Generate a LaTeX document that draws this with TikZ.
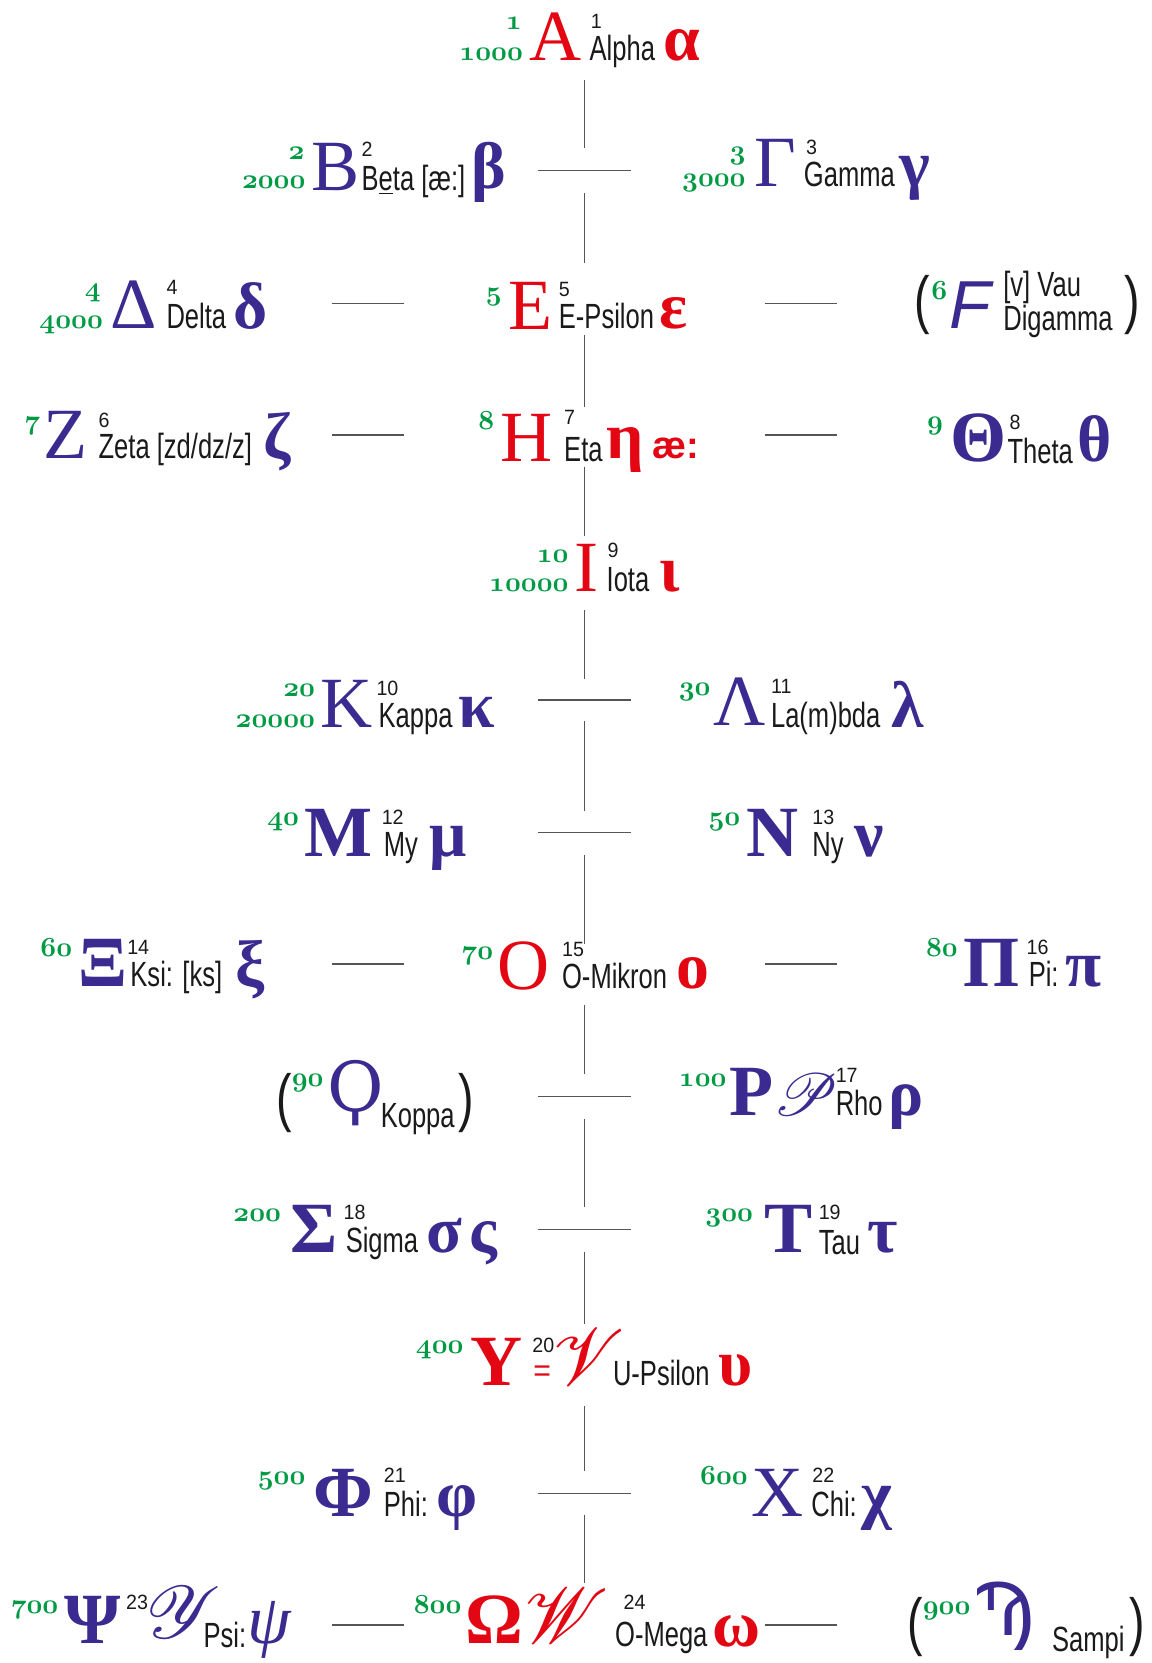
\documentclass[tikz,border=0pt]{standalone}
\usepackage{fontspec}
\usepackage{xcolor}
\newfontfamily\capff{Liberation Serif}
\newfontfamily\namff{Liberation Sans}[FakeStretch=0.73]
\newfontfamily\numff{Liberation Sans}[FakeStretch=0.95]
\newfontfamily\lcff{Liberation Serif}
\newfontfamily\sansff{Liberation Sans}
\newfontfamily\djs{DejaVu Sans}
\newfontfamily\djserif{DejaVu Serif}
\font\grnf=cmmib10 at 26pt
\font\scrPf=rsfs10 at 56pt
\font\scrVf=rsfs10 at 76pt
\font\scrWf=rsfs10 at 74pt
\font\scrYf=rsfs10 at 70pt
\definecolor{gred}{HTML}{E30613}
\definecolor{gpur}{HTML}{3B2A8F}
\definecolor{ggrn}{HTML}{009A44}
\definecolor{txt}{HTML}{1A1A1A}
\definecolor{lnc}{HTML}{555555}
\tikzset{
 every node/.style={inner sep=0pt,outer sep=0pt},
 gl/.style={font=\grnf,text=ggrn,anchor=base west},
 gr/.style={font=\grnf,text=ggrn,anchor=base east},
 capR/.style={font=\capff\fontsize{68}{68}\selectfont,text=gred,anchor=base west},
 capP/.style={font=\capff\fontsize{68}{68}\selectfont,text=gpur,anchor=base west},
 capRB/.style={font=\capff\bfseries\fontsize{68}{68}\selectfont,text=gred,anchor=base west},
 capPB/.style={font=\capff\bfseries\fontsize{68}{68}\selectfont,text=gpur,anchor=base west},
 sup/.style={font=\numff\fontsize{19.5}{19.5}\selectfont,text=txt,anchor=base west},
 nm/.style={font=\namff\fontsize{33}{33}\selectfont,text=txt,anchor=base west},
 lcR/.style={font=\lcff\bfseries\fontsize{62}{62}\selectfont,text=gred,anchor=base west},
 lcP/.style={font=\lcff\bfseries\fontsize{62}{62}\selectfont,text=gpur,anchor=base west},
 paren/.style={font=\namff\fontsize{60}{60}\selectfont,text=txt,anchor=base west},
 vline/.style={draw=lnc,line width=0.9pt},
 hline/.style={draw=lnc,line width=1.3pt},
}
\begin{document}
\begin{tikzpicture}[x=1pt,y=-1pt]
\useasboundingbox[fill=white] (0,0) rectangle (1086,1568);
% ---- connector lines
\foreach \i/\a/\b in {1/75/140,2/182/248,3/316/384,4/440/505,5/575/640,6/680/765,7/806/890,8/948/1013,9/1055/1138,10/1180/1248,11/1326/1387,12/1428/1493}{
  \coordinate (va\i) at (551,\a); \coordinate (vb\i) at (551,\b);
  \draw[vline] (va\i) -- (vb\i);
}
\foreach \i/\y in {1/161,2/660,3/785,4/1034,5/1159,6/1408}{
  \coordinate (ha\i) at (507,\y); \coordinate (hb\i) at (595,\y);
  \draw[hline] (ha\i) -- (hb\i);
}
\foreach \i/\y in {1/286,2/410,3/909,4/1532}{
  \coordinate (la\i) at (313,\y); \coordinate (lb\i) at (381,\y);
  \coordinate (ra\i) at (721,\y); \coordinate (rb\i) at (789,\y);
  \draw[hline] (la\i) -- (lb\i);
  \draw[hline] (ra\i) -- (rb\i);
}
% ---- Row 1: Alpha
\node[gr] (g1a) at (492,28) {1};
\node[gr] (g1b) at (493,57) {1000};
\node[capR] (c1) at (499,57) {A};
\node[sup] (s1) at (557,27) {1};
\node[nm] (n1) at (556,57) {Alpha};
\node[lcR] (l1) at (626,57) {α};
% ---- Row 2
\node[gr] (g2a) at (287,150) {2};
\node[gr] (g2b) at (288,178) {2000};
\node[capP] (c2) at (294,180) {B};
\node[sup] (s2) at (341,148) {2};
\node[nm] (n2) at (341,180) {B\underline{e}ta [æ:]};
\node[lcP] (l2) at (445,178) {β};
\node[gr] (g3a) at (703,150) {3};
\node[gr] (g3b) at (703,176) {3000};
\node[capP] (c3) at (711,176) {Γ};
\node[sup] (s3) at (760,146) {3};
\node[nm] (n3) at (758,176) {Gamma};
\node[lcP] (l3) at (848,176) {γ};
% ---- Row 3
\node[gr] (g4a) at (95,280) {4};
\node[gr] (g4b) at (97,310) {4000};
\node[capP] (c4) at (104,310) {Δ};
\node[sup] (s4) at (157,278) {4};
\node[nm] (n4) at (157,310) {Delta};
\node[lcP] (l4) at (220,310) {δ};
\node[gr] (g5) at (473,283) {5};
\node[capR] (c5) at (479,311) {E};
\node[sup] (s5) at (527,280) {5};
\node[nm] (n5) at (527,310) {E-Psilon};
\node[lcR] (l5) at (622,310) {ε};
\node[paren] (p6a) at (862,303) {(};
\node[gr] (g6) at (893,282) {6};
\node[font=\sansff\itshape\fontsize{64}{64}\selectfont,text=gpur,anchor=base west] (c6) at (895,310) {F};
\node[nm] (n6a) at (946,280) {[v] Vau};
\node[nm] (n6b) at (946,312) {Digamma};
\node[paren] (p6b) at (1060,303) {)};
% ---- Row 4
\node[gr] (g7) at (38,405) {7};
\node[capP] (c7) at (41,432) {Z};
\node[sup] (s7) at (93,403) {6};
\node[nm] (n7) at (93,432) {Zeta [zd/dz/z]};
\node[lcP] (l7) at (248,432) {ζ};
\node[gr] (g8) at (466,405) {8};
\node[capR] (c8) at (472,435) {H};
\node[sup] (s8) at (532,400) {7};
\node[nm] (n8) at (532,435) {Eta};
\node[lcR] (l8) at (572,432) {η};
\node[font=\sansff\bfseries\fontsize{36}{36}\selectfont,text=gred,anchor=base west] (x8) at (615,432) {æ:};
\node[gr] (g9) at (889,405) {9};
\node[capPB] (c9) at (896,435) {Θ};
\node[sup] (s9) at (952,405) {8};
\node[nm] (n9) at (950,437) {Theta};
\node[lcP] (l9) at (1016,435) {θ};
% ---- Row 5
\node[gr] (g10a) at (536,530) {10};
\node[gr] (g10b) at (536,558) {10000};
\node[capR] (c10) at (542,558) {I};
\node[sup] (s10) at (573,526) {9};
\node[nm] (n10) at (572,558) {Iota};
\node[lcR] (l10) at (622,558) {ι};
% ---- Row 6
\node[gr] (g20a) at (297,657) {20};
\node[gr] (g20b) at (297,686) {20000};
\node[capP] (c20) at (302,686) {K};
\node[sup] (s20) at (355,656) {10};
\node[nm] (n20) at (357,686) {Kappa};
\node[lcP] (l20) at (432,686) {κ};
\node[gr] (g30) at (670,656) {30};
\node[capP] (c30) at (673,684) {Λ};
\node[sup] (s30) at (727,654) {11};
\node[nm] (n30) at (727,686) {La(m)bda};
\node[lcP] (l30) at (841,686) {λ};
% ---- Row 7
\node[gr] (g40) at (282,778) {40};
\node[capPB] (c40) at (287,808) {M};
\node[sup] (s40) at (360,777) {12};
\node[nm] (n40) at (362,808) {My};
\node[lcP] (l40) at (405,808) {μ};
\node[gr] (g50) at (698,778) {50};
\node[capPB] (c50) at (704,808) {N};
\node[sup] (s50) at (766,777) {13};
\node[nm] (n50) at (766,808) {Ny};
\node[lcP] (l50) at (806,808) {ν};
% ---- Row 8
\node[gr] (g60) at (68,902) {60};
\node[capPB] (c60) at (74,930) {Ξ};
\node[sup] (s60) at (120,900) {14};
\node[nm] (n60) at (123,930) {Ksi: [ks]};
\node[lcP] (l60) at (222,930) {ξ};
\node[gr] (g70) at (465,905) {70};
\node[capR] (c70) at (469,933) {O};
\node[sup] (s70) at (530,902) {15};
\node[nm] (n70) at (530,932) {O-Mikron};
\node[lcR] (l70) at (638,932) {ο};
\node[gr] (g80) at (903,902) {80};
\node[capPB] (c80) at (908,930) {Π};
\node[sup] (s80) at (968,900) {16};
\node[nm] (n80) at (970,930) {Pi:};
\node[lcP] (l80) at (1005,930) {π};
% ---- Row 9
\node[paren] (p90a) at (261,1056) {(};
\node[gr] (g90) at (305,1024) {90};
\node[font=\djserif\fontsize{65}{65}\selectfont,text=gpur,anchor=base west] (c90) at (309,1048) {Ϙ};
\node[nm] (n90) at (359,1063) {Koppa};
\node[paren] (p90b) at (432,1056) {)};
\node[gr] (g100) at (685,1024) {100};
\node[capPB] (c100) at (688,1052) {P};
\node[font=\scrPf,text=gpur,anchor=base west] (k100) at (729,1052) {P};
\node[sup] (s100) at (788,1021) {17};
\node[nm] (n100) at (788,1052) {Rho};
\node[lcP] (l100) at (838,1052) {ρ};
% ---- Row 10
\node[gr] (g200) at (265,1152) {200};
\node[capPB] (c200) at (274,1181) {Σ};
\node[sup] (s200) at (324,1150) {18};
\node[nm] (n200) at (326,1181) {Sigma};
\node[lcP] (l200) at (402,1181) {σ};
\node[lcP] (m200) at (443,1181) {ς};
\node[gr] (g300) at (710,1152) {300};
\node[capPB] (c300) at (721,1181) {T};
\node[sup] (s300) at (772,1150) {19};
\node[nm] (n300) at (772,1183) {Tau};
\node[lcP] (l300) at (818,1181) {τ};
% ---- Row 11
\node[gr] (g400) at (437,1276) {400};
\node[capRB] (c400) at (444,1306) {Y};
\node[sup] (s400) at (502,1275) {20};
\node[font=\numff\fontsize{30}{30}\selectfont,text=gred,anchor=base west] (e400) at (503,1303) {=};
\node[font=\scrVf,text=gred,anchor=base west] (k400) at (521,1306) {V};
\node[nm] (n400) at (578,1306) {U-Psilon};
\node[lcR] (l400) at (677,1306) {υ};
% ---- Row 12
\node[gr] (g500) at (288,1400) {500};
\node[capPB] (c500) at (296,1430) {Φ};
\node[sup] (s500) at (362,1398) {21};
\node[nm] (n500) at (362,1430) {Phi:};
\node[lcP] (l500) at (412,1430) {φ};
\node[gr] (g600) at (705,1400) {600};
\node[capP] (c600) at (709,1430) {X};
\node[sup] (s600) at (766,1398) {22};
\node[nm] (n600) at (765,1430) {Chi:};
\node[lcP] (l600) at (812,1430) {χ};
% ---- Row 13
\node[gr] (g700) at (55,1521) {700};
\node[capPB] (c700) at (61,1550) {Ψ};
\node[sup] (s700) at (119,1518) {23};
\node[font=\scrYf,text=gpur,anchor=base west] (k700) at (138,1545) {Y};
\node[nm] (n700) at (192,1553) {Psi:};
\node[font=\capff\itshape\fontsize{66}{66}\selectfont,text=gpur,anchor=base west] (l700) at (233,1550) {ψ};
\node[gr] (g800) at (435,1521) {800};
\node[capRB] (c800) at (439,1550) {Ω};
\node[font=\scrWf,text=gred,anchor=base west] (k800) at (495,1550) {W};
\node[sup] (s800) at (588,1518) {24};
\node[nm] (n800) at (580,1552) {O-Mega};
\node[lcR] (l800) at (672,1552) {ω};
\node[paren] (p900a) at (856,1550) {(};
\node[gr] (g900) at (915,1522) {900};
\node[font=\djs\fontsize{68}{68}\selectfont,text=gpur,anchor=base west] (c900) at (918,1542) {Ϡ};
\node[nm] (n900) at (992,1557) {Sampi};
\node[paren] (p900b) at (1065,1550) {)};
\end{tikzpicture}
\end{document}
